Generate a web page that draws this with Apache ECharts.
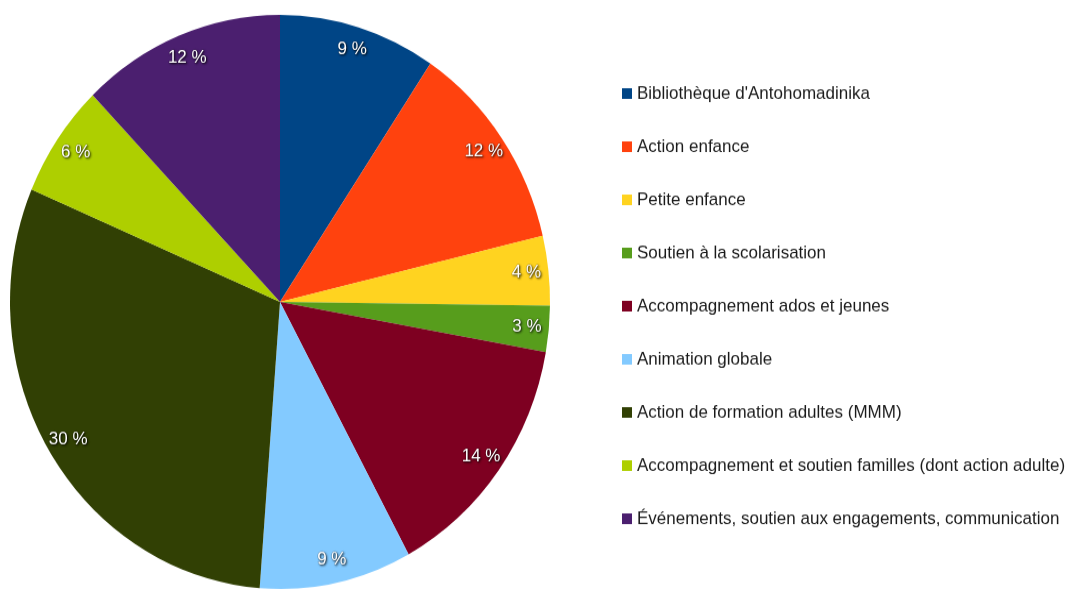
<!DOCTYPE html>
<html>
<head>
<meta charset="utf-8">
<script src="https://cdn.jsdelivr.net/npm/echarts@6/dist/echarts.min.js"></script>
<style>
  html, body { margin:0; padding:0; background:#fff; }
  body { width:1072px; height:590px; overflow:hidden; }
  /* the reference picture is a bit taller than wide, so stretch the chart */
  #main { width:1072px; height:555px; transform:scaleY(1.063); transform-origin:0 0; }
</style>
</head>
<body>
<div id="main"></div>
<script>
  // part of each action, in percent
  var categories = [
    "Bibliothèque d'Antohomadinika",
    'Action enfance',
    'Petite enfance',
    'Soutien à la scolarisation',
    'Accompagnement ados et jeunes',
    'Animation globale',
    'Action de formation adultes (MMM)',
    'Accompagnement et soutien familles (dont action adulte)',
    'Événements, soutien aux engagements, communication'
  ];
  var values = [9.4, 11.9, 3.9, 2.6, 14.3, 9.1, 30.2, 6.4, 12.2];
  var colors = ['#004586','#ff420e','#ffd320','#579d1c','#7e0021','#83caff','#314004','#aecf00','#4b1f6f'];

  var pieData = [];
  for (var i = 0; i < categories.length; i++) {
    pieData.push({ name: categories[i], value: values[i] });
  }

  var myChart = echarts.init(document.getElementById('main'));

  var option = {
    animation: false,
    color: colors,
    legend: {
      orient: 'vertical',
      left: 617,
      top: 73,
      icon: 'rect',
      itemWidth: 10,
      itemHeight: 10,
      itemGap: 30,
      selectedMode: false,
      data: categories,
      textStyle: {
        fontFamily: 'Liberation Sans',
        fontSize: 17,
        lineHeight: 20,
        color: '#1a1a1a'
      }
    },
    series: [
      {
        name: 'parts',
        type: 'pie',
        center: [280, 284],
        radius: [0, 270],
        startAngle: 90,
        clockwise: true,
        label: { show: false },
        labelLine: { show: false },
        emphasis: { disabled: true },
        data: pieData
      },
      {
        // invisible ring, only used to put the labels near the rim
        name: 'labels',
        type: 'pie',
        silent: true,
        center: [280, 284],
        radius: [220, 270],
        startAngle: 90,
        clockwise: true,
        itemStyle: { color: 'transparent' },
        labelLine: { show: false },
        label: {
          show: true,
          position: 'inside',
          formatter: function (p) { return Math.round(p.percent) + ' %'; },
          color: '#fff',
          fontFamily: 'Liberation Sans',
          fontSize: 17,
          textBorderColor: 'rgba(0,0,0,0.25)',
          textBorderWidth: 1,
          textShadowColor: 'rgba(0,0,0,0.7)',
          textShadowBlur: 2,
          textShadowOffsetX: 1,
          textShadowOffsetY: 1
        },
        emphasis: { disabled: true },
        data: pieData
      }
    ]
  };

  myChart.setOption(option);
</script>
</body>
</html>
